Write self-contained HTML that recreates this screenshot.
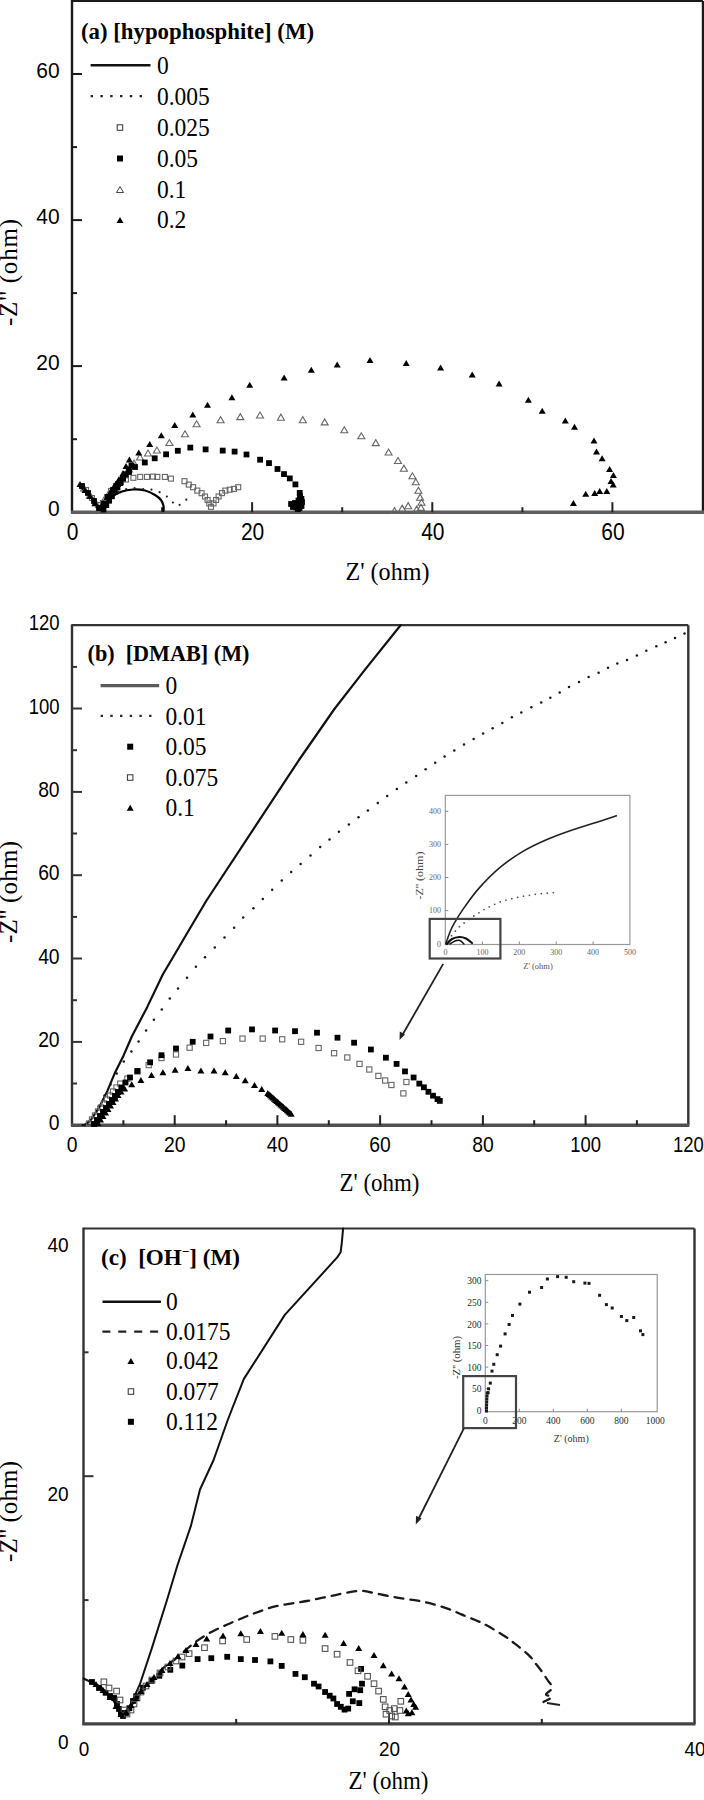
<!DOCTYPE html><html><head><meta charset="utf-8"><style>html,body{margin:0;padding:0;background:#fff;}svg{display:block}</style></head><body>
<svg width="704" height="1800" viewBox="0 0 704 1800">
<rect width="704" height="1800" fill="#fff"/>
<line x1="72" y1="1" x2="703" y2="1" stroke="#1a1a1a" stroke-width="2.2" />
<line x1="703" y1="1" x2="703" y2="512.2" stroke="#1a1a1a" stroke-width="2.4" />
<line x1="72" y1="0" x2="72" y2="513.2" stroke="#1a1a1a" stroke-width="2.4" />
<line x1="71" y1="512.2" x2="704" y2="512.2" stroke="#5e5e5e" stroke-width="3.6" />
<line x1="162.1" y1="512.2" x2="162.1" y2="507.2" stroke="#222" stroke-width="2" />
<line x1="252.1" y1="512.2" x2="252.1" y2="502.2" stroke="#222" stroke-width="2" />
<line x1="342.2" y1="512.2" x2="342.2" y2="507.2" stroke="#222" stroke-width="2" />
<line x1="432.3" y1="512.2" x2="432.3" y2="502.2" stroke="#222" stroke-width="2" />
<line x1="522.4" y1="512.2" x2="522.4" y2="507.2" stroke="#222" stroke-width="2" />
<line x1="612.4" y1="512.2" x2="612.4" y2="502.2" stroke="#222" stroke-width="2" />
<line x1="72" y1="439.2" x2="77" y2="439.2" stroke="#1a1a1a" stroke-width="2" />
<line x1="72" y1="366.1" x2="82" y2="366.1" stroke="#1a1a1a" stroke-width="2" />
<line x1="72" y1="293.1" x2="77" y2="293.1" stroke="#1a1a1a" stroke-width="2" />
<line x1="72" y1="220.1" x2="82" y2="220.1" stroke="#1a1a1a" stroke-width="2" />
<line x1="72" y1="147.1" x2="77" y2="147.1" stroke="#1a1a1a" stroke-width="2" />
<line x1="72" y1="74" x2="82" y2="74" stroke="#1a1a1a" stroke-width="2" />
<text transform="translate(72.5 540.2) scale(1.0 1.1)" font-family="&quot;Liberation Sans&quot;, sans-serif" font-size="21" text-anchor="middle" fill="#000">0</text>
<text transform="translate(252.6 540.2) scale(1.0 1.1)" font-family="&quot;Liberation Sans&quot;, sans-serif" font-size="21" text-anchor="middle" fill="#000">20</text>
<text transform="translate(432.8 540.2) scale(1.0 1.1)" font-family="&quot;Liberation Sans&quot;, sans-serif" font-size="21" text-anchor="middle" fill="#000">40</text>
<text transform="translate(612.9 540.2) scale(1.0 1.1)" font-family="&quot;Liberation Sans&quot;, sans-serif" font-size="21" text-anchor="middle" fill="#000">60</text>
<text transform="translate(59.6 515.7) scale(1.0 1.02)" font-family="&quot;Liberation Sans&quot;, sans-serif" font-size="21" text-anchor="end" fill="#000">0</text>
<text transform="translate(59.6 369.6) scale(1.0 1.02)" font-family="&quot;Liberation Sans&quot;, sans-serif" font-size="21" text-anchor="end" fill="#000">20</text>
<text transform="translate(59.6 223.6) scale(1.0 1.02)" font-family="&quot;Liberation Sans&quot;, sans-serif" font-size="21" text-anchor="end" fill="#000">40</text>
<text transform="translate(59.6 77.5) scale(1.0 1.02)" font-family="&quot;Liberation Sans&quot;, sans-serif" font-size="21" text-anchor="end" fill="#000">60</text>
<text x="387.5" y="580" font-family="&quot;Liberation Serif&quot;, serif" font-size="24.5" text-anchor="middle" font-weight="normal" textLength="84" lengthAdjust="spacingAndGlyphs">Z' (ohm)</text>
<text x="17" y="272.5" font-family="&quot;Liberation Serif&quot;, serif" font-size="25" text-anchor="middle" font-weight="normal" textLength="107" lengthAdjust="spacing" transform="rotate(-90 17 272.5)">-Z'' (ohm)</text>
<text x="81" y="39" font-family="&quot;Liberation Serif&quot;, serif" font-size="22.5" text-anchor="start" font-weight="bold" textLength="233" lengthAdjust="spacingAndGlyphs">(a) [hypophosphite] (M)</text>
<line x1="90.6" y1="65.2" x2="150.5" y2="65.2" stroke="#111" stroke-width="2.4" />
<line x1="90.6" y1="96.1" x2="142.5" y2="96.1" stroke="#222" stroke-width="2.4" stroke-dasharray="2.4 7.4"/>
<rect x="117.2" y="124.8" width="5.5" height="5.5" fill="none" stroke="#333" stroke-width="1"/>
<rect x="117" y="155.5" width="6" height="6" fill="#000"/>
<path d="M116.5 192.5L123.5 192.5L120 186.5Z" fill="none" stroke="#444" stroke-width="1"/>
<path d="M116.5 223L123.5 223L120 217Z" fill="#000"/>
<text transform="translate(157 73.8) scale(1 1.08)" font-family="&quot;Liberation Serif&quot;, serif" font-size="23.5" text-anchor="start" font-weight="normal" >0</text>
<text transform="translate(157 104.9) scale(1 1.08)" font-family="&quot;Liberation Serif&quot;, serif" font-size="23.5" text-anchor="start" font-weight="normal" >0.005</text>
<text transform="translate(157 135.8) scale(1 1.08)" font-family="&quot;Liberation Serif&quot;, serif" font-size="23.5" text-anchor="start" font-weight="normal" >0.025</text>
<text transform="translate(157 166.8) scale(1 1.08)" font-family="&quot;Liberation Serif&quot;, serif" font-size="23.5" text-anchor="start" font-weight="normal" >0.05</text>
<text transform="translate(157 197.8) scale(1 1.08)" font-family="&quot;Liberation Serif&quot;, serif" font-size="23.5" text-anchor="start" font-weight="normal" >0.1</text>
<text transform="translate(157 228.3) scale(1 1.08)" font-family="&quot;Liberation Serif&quot;, serif" font-size="23.5" text-anchor="start" font-weight="normal" >0.2</text>
<path d="M80 486C81.7 487.7 86.8 492.3 90 496C93.2 499.7 97.5 506 99 508" fill="none" stroke="#000" stroke-width="3" stroke-linejoin="round" stroke-linecap="round" />
<path d="M104 508C105.3 506.2 109 499.8 112 497C115 494.2 118.5 492.8 122 491.5C125.5 490.2 129.2 489.7 133 489.5C136.8 489.3 141.3 489.6 145 490.5C148.7 491.4 152.3 493.4 155 495C157.7 496.6 159.6 498.2 161 500C162.4 501.8 163.1 504.2 163.5 506C163.9 507.8 163.5 510.2 163.5 511" fill="none" stroke="#000" stroke-width="2.2" stroke-linejoin="round" stroke-linecap="round" />
<circle cx="99" cy="508" r="1.1" fill="#222"/>
<circle cx="104.7" cy="501.7" r="1.1" fill="#222"/>
<circle cx="110.6" cy="495.7" r="1.1" fill="#222"/>
<circle cx="118.2" cy="491.9" r="1.1" fill="#222"/>
<circle cx="126.2" cy="489.2" r="1.1" fill="#222"/>
<circle cx="134.6" cy="488.2" r="1.1" fill="#222"/>
<circle cx="143.1" cy="489" r="1.1" fill="#222"/>
<circle cx="151.5" cy="489.7" r="1.1" fill="#222"/>
<circle cx="159.6" cy="492.2" r="1.1" fill="#222"/>
<circle cx="166.9" cy="496.5" r="1.1" fill="#222"/>
<circle cx="172.9" cy="502.5" r="1.1" fill="#222"/>
<circle cx="179.6" cy="504.8" r="1.1" fill="#222"/>
<circle cx="186.3" cy="499.7" r="1.1" fill="#222"/>
<rect x="83.5" y="487.5" width="5" height="5" fill="none" stroke="#666" stroke-width="1.1"/>
<rect x="89.5" y="495.5" width="5" height="5" fill="none" stroke="#666" stroke-width="1.1"/>
<rect x="95.5" y="502.5" width="5" height="5" fill="none" stroke="#666" stroke-width="1.1"/>
<rect x="100.5" y="500.5" width="5" height="5" fill="none" stroke="#666" stroke-width="1.1"/>
<rect x="104.5" y="494.5" width="5" height="5" fill="none" stroke="#666" stroke-width="1.1"/>
<rect x="108.5" y="488.5" width="5" height="5" fill="none" stroke="#666" stroke-width="1.1"/>
<rect x="113.5" y="483.5" width="5" height="5" fill="none" stroke="#666" stroke-width="1.1"/>
<rect x="118.5" y="479.5" width="5" height="5" fill="none" stroke="#666" stroke-width="1.1"/>
<rect x="123.5" y="477" width="5" height="5" fill="none" stroke="#666" stroke-width="1.1"/>
<rect x="130.9" y="475.3" width="5" height="5" fill="none" stroke="#666" stroke-width="1.1"/>
<rect x="137.7" y="474.4" width="5" height="5" fill="none" stroke="#666" stroke-width="1.1"/>
<rect x="144.5" y="474.4" width="5" height="5" fill="none" stroke="#666" stroke-width="1.1"/>
<rect x="150.5" y="474.1" width="5" height="5" fill="none" stroke="#666" stroke-width="1.1"/>
<rect x="154.8" y="474.4" width="5" height="5" fill="none" stroke="#666" stroke-width="1.1"/>
<rect x="162.4" y="474.4" width="5" height="5" fill="none" stroke="#666" stroke-width="1.1"/>
<rect x="168.4" y="476.1" width="5" height="5" fill="none" stroke="#666" stroke-width="1.1"/>
<rect x="182" y="478.7" width="5" height="5" fill="none" stroke="#666" stroke-width="1.1"/>
<rect x="186.3" y="482.1" width="5" height="5" fill="none" stroke="#666" stroke-width="1.1"/>
<rect x="190.6" y="484.7" width="5" height="5" fill="none" stroke="#666" stroke-width="1.1"/>
<rect x="194.8" y="488.1" width="5" height="5" fill="none" stroke="#666" stroke-width="1.1"/>
<rect x="199.1" y="490.7" width="5" height="5" fill="none" stroke="#666" stroke-width="1.1"/>
<rect x="202.5" y="494" width="5" height="5" fill="none" stroke="#666" stroke-width="1.1"/>
<rect x="205.1" y="497.5" width="5" height="5" fill="none" stroke="#666" stroke-width="1.1"/>
<rect x="206.8" y="500.9" width="5" height="5" fill="none" stroke="#666" stroke-width="1.1"/>
<rect x="208.5" y="504.3" width="5" height="5" fill="none" stroke="#666" stroke-width="1.1"/>
<rect x="211" y="500.9" width="5" height="5" fill="none" stroke="#666" stroke-width="1.1"/>
<rect x="213.6" y="497.5" width="5" height="5" fill="none" stroke="#666" stroke-width="1.1"/>
<rect x="216.1" y="494" width="5" height="5" fill="none" stroke="#666" stroke-width="1.1"/>
<rect x="219.5" y="490.6" width="5" height="5" fill="none" stroke="#666" stroke-width="1.1"/>
<rect x="222.9" y="488.1" width="5" height="5" fill="none" stroke="#666" stroke-width="1.1"/>
<rect x="227.2" y="487.2" width="5" height="5" fill="none" stroke="#666" stroke-width="1.1"/>
<rect x="231.5" y="486.4" width="5" height="5" fill="none" stroke="#666" stroke-width="1.1"/>
<rect x="235.7" y="484.7" width="5" height="5" fill="none" stroke="#666" stroke-width="1.1"/>
<path d="M80.5 491L87.5 491L84 485Z" fill="none" stroke="#666" stroke-width="1.1"/>
<path d="M86.5 498L93.5 498L90 492Z" fill="none" stroke="#666" stroke-width="1.1"/>
<path d="M92.5 506L99.5 506L96 500Z" fill="none" stroke="#666" stroke-width="1.1"/>
<path d="M100.5 503L107.5 503L104 497Z" fill="none" stroke="#666" stroke-width="1.1"/>
<path d="M105.5 496L112.5 496L109 490Z" fill="none" stroke="#666" stroke-width="1.1"/>
<path d="M110.5 490L117.5 490L114 484Z" fill="none" stroke="#666" stroke-width="1.1"/>
<path d="M115.5 484L122.5 484L119 478Z" fill="none" stroke="#666" stroke-width="1.1"/>
<path d="M120.5 478L127.5 478L124 472Z" fill="none" stroke="#666" stroke-width="1.1"/>
<path d="M125.5 472L132.5 472L129 466Z" fill="none" stroke="#666" stroke-width="1.1"/>
<path d="M130.5 466L137.5 466L134 460Z" fill="none" stroke="#666" stroke-width="1.1"/>
<path d="M136.5 460L143.5 460L140 454Z" fill="none" stroke="#666" stroke-width="1.1"/>
<path d="M144.5 456L151.5 456L148 450Z" fill="none" stroke="#666" stroke-width="1.1"/>
<path d="M153.4 453L160.4 453L156.9 447Z" fill="none" stroke="#666" stroke-width="1.1"/>
<path d="M165.9 445.5L172.9 445.5L169.4 439.5Z" fill="none" stroke="#666" stroke-width="1.1"/>
<path d="M181.5 436.8L188.5 436.8L185 430.8Z" fill="none" stroke="#666" stroke-width="1.1"/>
<path d="M193.1 426.8L200.1 426.8L196.6 420.8Z" fill="none" stroke="#666" stroke-width="1.1"/>
<path d="M217.1 422.7L224.1 422.7L220.6 416.7Z" fill="none" stroke="#666" stroke-width="1.1"/>
<path d="M236.8 419.6L243.8 419.6L240.3 413.6Z" fill="none" stroke="#666" stroke-width="1.1"/>
<path d="M256.5 418L263.5 418L260 412Z" fill="none" stroke="#666" stroke-width="1.1"/>
<path d="M277.4 420.2L284.4 420.2L280.9 414.2Z" fill="none" stroke="#666" stroke-width="1.1"/>
<path d="M299.3 422.7L306.3 422.7L302.8 416.7Z" fill="none" stroke="#666" stroke-width="1.1"/>
<path d="M321.2 424.9L328.2 424.9L324.7 418.9Z" fill="none" stroke="#666" stroke-width="1.1"/>
<path d="M340.8 432.8L347.8 432.8L344.3 426.8Z" fill="none" stroke="#666" stroke-width="1.1"/>
<path d="M357.8 438.8L364.8 438.8L361.3 432.8Z" fill="none" stroke="#666" stroke-width="1.1"/>
<path d="M372.3 445.6L379.3 445.6L375.8 439.6Z" fill="none" stroke="#666" stroke-width="1.1"/>
<path d="M385.1 455L392.1 455L388.6 449Z" fill="none" stroke="#666" stroke-width="1.1"/>
<path d="M394.5 463.5L401.5 463.5L398 457.5Z" fill="none" stroke="#666" stroke-width="1.1"/>
<path d="M400.4 471.2L407.4 471.2L403.9 465.2Z" fill="none" stroke="#666" stroke-width="1.1"/>
<path d="M408.9 478.8L415.9 478.8L412.4 472.8Z" fill="none" stroke="#666" stroke-width="1.1"/>
<path d="M412.3 484.8L419.3 484.8L415.8 478.8Z" fill="none" stroke="#666" stroke-width="1.1"/>
<path d="M414.9 493.3L421.9 493.3L418.4 487.3Z" fill="none" stroke="#666" stroke-width="1.1"/>
<path d="M416.6 500.2L423.6 500.2L420.1 494.2Z" fill="none" stroke="#666" stroke-width="1.1"/>
<path d="M418 505.3L425 505.3L421.5 499.3Z" fill="none" stroke="#666" stroke-width="1.1"/>
<path d="M417.5 510.4L424.5 510.4L421 504.4Z" fill="none" stroke="#666" stroke-width="1.1"/>
<path d="M413.2 512.1L420.2 512.1L416.7 506.1Z" fill="none" stroke="#666" stroke-width="1.1"/>
<path d="M404.7 508.7L411.7 508.7L408.2 502.7Z" fill="none" stroke="#666" stroke-width="1.1"/>
<path d="M398.7 511.2L405.7 511.2L402.2 505.2Z" fill="none" stroke="#666" stroke-width="1.1"/>
<path d="M391 513.5L398 513.5L394.5 507.5Z" fill="none" stroke="#666" stroke-width="1.1"/>
<rect x="79.1" y="483.1" width="5.8" height="5.8" fill="#000"/>
<rect x="85.1" y="490.1" width="5.8" height="5.8" fill="#000"/>
<rect x="91.1" y="498.1" width="5.8" height="5.8" fill="#000"/>
<rect x="96.1" y="505.1" width="5.8" height="5.8" fill="#000"/>
<rect x="101.1" y="501.1" width="5.8" height="5.8" fill="#000"/>
<rect x="105.1" y="494.1" width="5.8" height="5.8" fill="#000"/>
<rect x="110.1" y="487.1" width="5.8" height="5.8" fill="#000"/>
<rect x="115.1" y="481.1" width="5.8" height="5.8" fill="#000"/>
<rect x="120.1" y="475.1" width="5.8" height="5.8" fill="#000"/>
<rect x="126.1" y="469.1" width="5.8" height="5.8" fill="#000"/>
<rect x="132.1" y="464.1" width="5.8" height="5.8" fill="#000"/>
<rect x="141.9" y="459.6" width="5.8" height="5.8" fill="#000"/>
<rect x="151.8" y="455.4" width="5.8" height="5.8" fill="#000"/>
<rect x="163.2" y="451.4" width="5.8" height="5.8" fill="#000"/>
<rect x="174.9" y="447.9" width="5.8" height="5.8" fill="#000"/>
<rect x="187.4" y="444.7" width="5.8" height="5.8" fill="#000"/>
<rect x="202.7" y="446.5" width="5.8" height="5.8" fill="#000"/>
<rect x="219.8" y="447.7" width="5.8" height="5.8" fill="#000"/>
<rect x="231.7" y="448.7" width="5.8" height="5.8" fill="#000"/>
<rect x="243.6" y="451.6" width="5.8" height="5.8" fill="#000"/>
<rect x="257.2" y="456.8" width="5.8" height="5.8" fill="#000"/>
<rect x="266.1" y="460.2" width="5.8" height="5.8" fill="#000"/>
<rect x="274.6" y="466.1" width="5.8" height="5.8" fill="#000"/>
<rect x="281.1" y="471.2" width="5.8" height="5.8" fill="#000"/>
<rect x="286.9" y="475.5" width="5.8" height="5.8" fill="#000"/>
<rect x="292.5" y="481.5" width="5.8" height="5.8" fill="#000"/>
<rect x="296.8" y="490" width="5.8" height="5.8" fill="#000"/>
<rect x="298.5" y="496" width="5.8" height="5.8" fill="#000"/>
<rect x="297.6" y="501.1" width="5.8" height="5.8" fill="#000"/>
<rect x="293.3" y="504.5" width="5.8" height="5.8" fill="#000"/>
<rect x="288.2" y="501.1" width="5.8" height="5.8" fill="#000"/>
<rect x="295.1" y="506.2" width="5.8" height="5.8" fill="#000"/>
<rect x="297.1" y="493.1" width="5.8" height="5.8" fill="#000"/>
<rect x="299.1" y="499.1" width="5.8" height="5.8" fill="#000"/>
<rect x="295.6" y="497.6" width="5.8" height="5.8" fill="#000"/>
<rect x="292.1" y="500.1" width="5.8" height="5.8" fill="#000"/>
<rect x="290.1" y="504.1" width="5.8" height="5.8" fill="#000"/>
<rect x="296.6" y="505.1" width="5.8" height="5.8" fill="#000"/>
<rect x="298.6" y="503.1" width="5.8" height="5.8" fill="#000"/>
<rect x="100.6" y="506.6" width="5.8" height="5.8" fill="#000"/>
<rect x="103.4" y="502.2" width="5.8" height="5.8" fill="#000"/>
<rect x="106.2" y="497.8" width="5.8" height="5.8" fill="#000"/>
<rect x="109" y="493.4" width="5.8" height="5.8" fill="#000"/>
<rect x="111.8" y="489" width="5.8" height="5.8" fill="#000"/>
<rect x="114.6" y="484.6" width="5.8" height="5.8" fill="#000"/>
<rect x="117.4" y="480.2" width="5.8" height="5.8" fill="#000"/>
<rect x="120.2" y="475.8" width="5.8" height="5.8" fill="#000"/>
<rect x="123" y="471.4" width="5.8" height="5.8" fill="#000"/>
<rect x="125.8" y="467" width="5.8" height="5.8" fill="#000"/>
<rect x="128.6" y="462.6" width="5.8" height="5.8" fill="#000"/>
<path d="M76.5 487L83.5 487L80 481Z" fill="#000"/>
<path d="M81.5 493L88.5 493L85 487Z" fill="#000"/>
<path d="M86.5 499L93.5 499L90 493Z" fill="#000"/>
<path d="M91.5 506L98.5 506L95 500Z" fill="#000"/>
<path d="M96.5 511L103.5 511L100 505Z" fill="#000"/>
<path d="M99.5 506L106.5 506L103 500Z" fill="#000"/>
<path d="M103.5 500L110.5 500L107 494Z" fill="#000"/>
<path d="M107.5 494L114.5 494L111 488Z" fill="#000"/>
<path d="M111.5 488L118.5 488L115 482Z" fill="#000"/>
<path d="M115.5 482L122.5 482L119 476Z" fill="#000"/>
<path d="M119.5 476L126.5 476L123 470Z" fill="#000"/>
<path d="M122.5 469L129.5 469L126 463Z" fill="#000"/>
<path d="M125.9 462.4L132.9 462.4L129.4 456.4Z" fill="#000"/>
<path d="M135.3 455.5L142.3 455.5L138.8 449.5Z" fill="#000"/>
<path d="M146.2 447.1L153.2 447.1L149.7 441.1Z" fill="#000"/>
<path d="M157.8 438.3L164.8 438.3L161.3 432.3Z" fill="#000"/>
<path d="M171.2 428L178.2 428L174.7 422Z" fill="#000"/>
<path d="M189.3 417.4L196.3 417.4L192.8 411.4Z" fill="#000"/>
<path d="M204 407.7L211 407.7L207.5 401.7Z" fill="#000"/>
<path d="M228.4 400.2L235.4 400.2L231.9 394.2Z" fill="#000"/>
<path d="M246.2 387.7L253.2 387.7L249.7 381.7Z" fill="#000"/>
<path d="M280.6 380.5L287.6 380.5L284.1 374.5Z" fill="#000"/>
<path d="M307.8 372.7L314.8 372.7L311.3 366.7Z" fill="#000"/>
<path d="M333.7 367.4L340.7 367.4L337.2 361.4Z" fill="#000"/>
<path d="M366.5 363.1L373.5 363.1L370 357.1Z" fill="#000"/>
<path d="M402.7 366L409.7 366L406.2 360Z" fill="#000"/>
<path d="M437.1 370.5L444.1 370.5L440.6 364.5Z" fill="#000"/>
<path d="M468.7 377.4L475.7 377.4L472.2 371.4Z" fill="#000"/>
<path d="M495.6 386.6L502.6 386.6L499.1 380.6Z" fill="#000"/>
<path d="M524.9 402.7L531.9 402.7L528.4 396.7Z" fill="#000"/>
<path d="M538.7 413.7L545.7 413.7L542.2 407.7Z" fill="#000"/>
<path d="M561.8 423.6L568.8 423.6L565.3 417.6Z" fill="#000"/>
<path d="M571 429.7L578 429.7L574.5 423.7Z" fill="#000"/>
<path d="M590.5 443.5L597.5 443.5L594 437.5Z" fill="#000"/>
<path d="M593 454.4L600 454.4L596.5 448.4Z" fill="#000"/>
<path d="M598.6 461.2L605.6 461.2L602.1 455.2Z" fill="#000"/>
<path d="M606.1 471.9L613.1 471.9L609.6 465.9Z" fill="#000"/>
<path d="M609.9 478L616.9 478L613.4 472Z" fill="#000"/>
<path d="M607.5 484L614.5 484L611 478Z" fill="#000"/>
<path d="M609.7 487.5L616.7 487.5L613.2 481.5Z" fill="#000"/>
<path d="M603.3 493.9L610.3 493.9L606.8 487.9Z" fill="#000"/>
<path d="M596.2 493.9L603.2 493.9L599.7 487.9Z" fill="#000"/>
<path d="M591.2 496L598.2 496L594.7 490Z" fill="#000"/>
<path d="M582.2 496.8L589.2 496.8L585.7 490.8Z" fill="#000"/>
<path d="M569.9 506L576.9 506L573.4 500Z" fill="#000"/>
<line x1="72" y1="625.2" x2="688.3" y2="625.2" stroke="#333" stroke-width="2.2" />
<line x1="688.3" y1="625.2" x2="688.3" y2="1125.2" stroke="#333" stroke-width="2.4" />
<line x1="72" y1="624.2" x2="72" y2="1126.2" stroke="#333" stroke-width="2.4" />
<line x1="71" y1="1125.2" x2="689.3" y2="1125.2" stroke="#505050" stroke-width="3.6" />
<line x1="123.4" y1="1125.2" x2="123.4" y2="1120.2" stroke="#222" stroke-width="2" />
<line x1="174.7" y1="1125.2" x2="174.7" y2="1115.2" stroke="#222" stroke-width="2" />
<line x1="226.1" y1="1125.2" x2="226.1" y2="1120.2" stroke="#222" stroke-width="2" />
<line x1="277.4" y1="1125.2" x2="277.4" y2="1115.2" stroke="#222" stroke-width="2" />
<line x1="328.8" y1="1125.2" x2="328.8" y2="1120.2" stroke="#222" stroke-width="2" />
<line x1="380.1" y1="1125.2" x2="380.1" y2="1115.2" stroke="#222" stroke-width="2" />
<line x1="431.5" y1="1125.2" x2="431.5" y2="1120.2" stroke="#222" stroke-width="2" />
<line x1="482.9" y1="1125.2" x2="482.9" y2="1115.2" stroke="#222" stroke-width="2" />
<line x1="534.2" y1="1125.2" x2="534.2" y2="1120.2" stroke="#222" stroke-width="2" />
<line x1="585.6" y1="1125.2" x2="585.6" y2="1115.2" stroke="#222" stroke-width="2" />
<line x1="636.9" y1="1125.2" x2="636.9" y2="1120.2" stroke="#222" stroke-width="2" />
<line x1="72" y1="1083.5" x2="77" y2="1083.5" stroke="#333" stroke-width="2" />
<line x1="72" y1="1041.9" x2="82" y2="1041.9" stroke="#333" stroke-width="2" />
<line x1="72" y1="1000.2" x2="77" y2="1000.2" stroke="#333" stroke-width="2" />
<line x1="72" y1="958.5" x2="82" y2="958.5" stroke="#333" stroke-width="2" />
<line x1="72" y1="916.9" x2="77" y2="916.9" stroke="#333" stroke-width="2" />
<line x1="72" y1="875.2" x2="82" y2="875.2" stroke="#333" stroke-width="2" />
<line x1="72" y1="833.5" x2="77" y2="833.5" stroke="#333" stroke-width="2" />
<line x1="72" y1="791.9" x2="82" y2="791.9" stroke="#333" stroke-width="2" />
<line x1="72" y1="750.2" x2="77" y2="750.2" stroke="#333" stroke-width="2" />
<line x1="72" y1="708.5" x2="82" y2="708.5" stroke="#333" stroke-width="2" />
<line x1="72" y1="666.9" x2="77" y2="666.9" stroke="#333" stroke-width="2" />
<text transform="translate(72 1152) scale(0.92 1.04)" font-family="&quot;Liberation Sans&quot;, sans-serif" font-size="21" text-anchor="middle" fill="#000">0</text>
<text transform="translate(174.7 1152) scale(0.92 1.04)" font-family="&quot;Liberation Sans&quot;, sans-serif" font-size="21" text-anchor="middle" fill="#000">20</text>
<text transform="translate(277.4 1152) scale(0.92 1.04)" font-family="&quot;Liberation Sans&quot;, sans-serif" font-size="21" text-anchor="middle" fill="#000">40</text>
<text transform="translate(380.1 1152) scale(0.92 1.04)" font-family="&quot;Liberation Sans&quot;, sans-serif" font-size="21" text-anchor="middle" fill="#000">60</text>
<text transform="translate(482.9 1152) scale(0.92 1.04)" font-family="&quot;Liberation Sans&quot;, sans-serif" font-size="21" text-anchor="middle" fill="#000">80</text>
<text transform="translate(585.6 1152) scale(0.88 1.04)" font-family="&quot;Liberation Sans&quot;, sans-serif" font-size="21" text-anchor="middle" fill="#000">100</text>
<text transform="translate(688.3 1152) scale(0.88 1.04)" font-family="&quot;Liberation Sans&quot;, sans-serif" font-size="21" text-anchor="middle" fill="#000">120</text>
<text transform="translate(59.6 1130.4) scale(0.92 1.02)" font-family="&quot;Liberation Sans&quot;, sans-serif" font-size="21" text-anchor="end" fill="#000">0</text>
<text transform="translate(59.6 1047) scale(0.92 1.02)" font-family="&quot;Liberation Sans&quot;, sans-serif" font-size="21" text-anchor="end" fill="#000">20</text>
<text transform="translate(59.6 963.7) scale(0.92 1.02)" font-family="&quot;Liberation Sans&quot;, sans-serif" font-size="21" text-anchor="end" fill="#000">40</text>
<text transform="translate(59.6 880.4) scale(0.92 1.02)" font-family="&quot;Liberation Sans&quot;, sans-serif" font-size="21" text-anchor="end" fill="#000">60</text>
<text transform="translate(59.6 797) scale(0.92 1.02)" font-family="&quot;Liberation Sans&quot;, sans-serif" font-size="21" text-anchor="end" fill="#000">80</text>
<text transform="translate(59.6 713.7) scale(0.88 1.02)" font-family="&quot;Liberation Sans&quot;, sans-serif" font-size="21" text-anchor="end" fill="#000">100</text>
<text transform="translate(59.6 630.4) scale(0.88 1.02)" font-family="&quot;Liberation Sans&quot;, sans-serif" font-size="21" text-anchor="end" fill="#000">120</text>
<text x="379.5" y="1191" font-family="&quot;Liberation Serif&quot;, serif" font-size="24.5" text-anchor="middle" font-weight="normal" textLength="80" lengthAdjust="spacingAndGlyphs">Z' (ohm)</text>
<text x="17" y="892" font-family="&quot;Liberation Serif&quot;, serif" font-size="25" text-anchor="middle" font-weight="normal" textLength="102" lengthAdjust="spacing" transform="rotate(-90 17 892)">-Z'' (ohm)</text>
<text x="87.5" y="661" font-family="&quot;Liberation Serif&quot;, serif" font-size="22.5" text-anchor="start" font-weight="bold" textLength="162" lengthAdjust="spacingAndGlyphs">(b)&#160;&#160;[DMAB] (M)</text>
<line x1="100.6" y1="685.7" x2="159.2" y2="685.7" stroke="#5a5a5a" stroke-width="3.3" />
<line x1="100.6" y1="715.9" x2="153" y2="715.9" stroke="#2a2a2a" stroke-width="2.4" stroke-dasharray="2.4 7.3"/>
<rect x="127.2" y="743.7" width="6" height="6" fill="#000"/>
<rect x="127.4" y="774.8" width="5.5" height="5.5" fill="none" stroke="#333" stroke-width="1"/>
<path d="M126.7 810.8L133.7 810.8L130.2 804.8Z" fill="#000"/>
<text transform="translate(165.5 693.7) scale(1 1.08)" font-family="&quot;Liberation Serif&quot;, serif" font-size="23.5" text-anchor="start" font-weight="normal" >0</text>
<text transform="translate(165.5 724.6) scale(1 1.08)" font-family="&quot;Liberation Serif&quot;, serif" font-size="23.5" text-anchor="start" font-weight="normal" >0.01</text>
<text transform="translate(165.5 755) scale(1 1.08)" font-family="&quot;Liberation Serif&quot;, serif" font-size="23.5" text-anchor="start" font-weight="normal" >0.05</text>
<text transform="translate(165.5 785.8) scale(1 1.08)" font-family="&quot;Liberation Serif&quot;, serif" font-size="23.5" text-anchor="start" font-weight="normal" >0.075</text>
<text transform="translate(165.5 816.1) scale(1 1.08)" font-family="&quot;Liberation Serif&quot;, serif" font-size="23.5" text-anchor="start" font-weight="normal" >0.1</text>
<path d="M82.5 1125L84.8 1124.8L90.5 1120.5L99 1107.7L107.5 1090.7L114.6 1073.6L123.1 1056.6L131.7 1036.7L147.3 1006.9L162.9 974.2L171.4 960L189 930L206.5 900.5L299 760L334.4 709L365.6 668.8L400.6 625.2" fill="none" stroke="#111" stroke-width="2.2" stroke-linejoin="round" stroke-linecap="round" />
<circle cx="92.5" cy="1117" r="1.25" fill="#1a1a1a"/>
<circle cx="98.5" cy="1106.5" r="1.25" fill="#1a1a1a"/>
<circle cx="104.5" cy="1095.5" r="1.25" fill="#1a1a1a"/>
<circle cx="110.5" cy="1084.5" r="1.25" fill="#1a1a1a"/>
<circle cx="116.7" cy="1073.6" r="1.25" fill="#1a1a1a"/>
<circle cx="123.8" cy="1061.6" r="1.25" fill="#1a1a1a"/>
<circle cx="131.4" cy="1051.6" r="1.25" fill="#1a1a1a"/>
<circle cx="138.6" cy="1041.4" r="1.25" fill="#1a1a1a"/>
<circle cx="146.1" cy="1030.5" r="1.25" fill="#1a1a1a"/>
<circle cx="153.9" cy="1019.8" r="1.25" fill="#1a1a1a"/>
<circle cx="161.8" cy="1009.5" r="1.25" fill="#1a1a1a"/>
<circle cx="169.8" cy="998.6" r="1.25" fill="#1a1a1a"/>
<circle cx="178" cy="988.6" r="1.25" fill="#1a1a1a"/>
<circle cx="187" cy="977.7" r="1.25" fill="#1a1a1a"/>
<circle cx="195.9" cy="966.8" r="1.25" fill="#1a1a1a"/>
<circle cx="205" cy="957.3" r="1.25" fill="#1a1a1a"/>
<circle cx="214.8" cy="947.5" r="1.25" fill="#1a1a1a"/>
<circle cx="224.5" cy="937.5" r="1.25" fill="#1a1a1a"/>
<circle cx="234.1" cy="927.7" r="1.25" fill="#1a1a1a"/>
<circle cx="243.2" cy="917.5" r="1.25" fill="#1a1a1a"/>
<circle cx="253.4" cy="908.3" r="1.25" fill="#1a1a1a"/>
<circle cx="262.8" cy="899.1" r="1.25" fill="#1a1a1a"/>
<circle cx="272.2" cy="889.7" r="1.25" fill="#1a1a1a"/>
<circle cx="281.8" cy="880.6" r="1.25" fill="#1a1a1a"/>
<circle cx="291.2" cy="872.1" r="1.25" fill="#1a1a1a"/>
<circle cx="300.6" cy="864.1" r="1.25" fill="#1a1a1a"/>
<circle cx="310.5" cy="855.6" r="1.25" fill="#1a1a1a"/>
<circle cx="320.2" cy="847.1" r="1.25" fill="#1a1a1a"/>
<circle cx="329.5" cy="839.4" r="1.25" fill="#1a1a1a"/>
<circle cx="338.9" cy="831.8" r="1.25" fill="#1a1a1a"/>
<circle cx="348.9" cy="824.4" r="1.25" fill="#1a1a1a"/>
<circle cx="358.5" cy="817.3" r="1.25" fill="#1a1a1a"/>
<circle cx="367.9" cy="810.5" r="1.25" fill="#1a1a1a"/>
<circle cx="377.8" cy="803.1" r="1.25" fill="#1a1a1a"/>
<circle cx="387.2" cy="796" r="1.25" fill="#1a1a1a"/>
<circle cx="396.9" cy="788.9" r="1.25" fill="#1a1a1a"/>
<circle cx="406.3" cy="782.6" r="1.25" fill="#1a1a1a"/>
<circle cx="416.2" cy="776.1" r="1.25" fill="#1a1a1a"/>
<circle cx="425.6" cy="769.3" r="1.25" fill="#1a1a1a"/>
<circle cx="435.2" cy="762.7" r="1.25" fill="#1a1a1a"/>
<circle cx="444.6" cy="756.5" r="1.25" fill="#1a1a1a"/>
<circle cx="454.3" cy="750.4" r="1.25" fill="#1a1a1a"/>
<circle cx="464" cy="744.5" r="1.25" fill="#1a1a1a"/>
<circle cx="473.6" cy="739" r="1.25" fill="#1a1a1a"/>
<circle cx="483.1" cy="733.5" r="1.25" fill="#1a1a1a"/>
<circle cx="492.7" cy="728.2" r="1.25" fill="#1a1a1a"/>
<circle cx="502.3" cy="723" r="1.25" fill="#1a1a1a"/>
<circle cx="511.9" cy="717.3" r="1.25" fill="#1a1a1a"/>
<circle cx="521.3" cy="712.4" r="1.25" fill="#1a1a1a"/>
<circle cx="531.3" cy="707.3" r="1.25" fill="#1a1a1a"/>
<circle cx="541.2" cy="702.5" r="1.25" fill="#1a1a1a"/>
<circle cx="550.3" cy="697.7" r="1.25" fill="#1a1a1a"/>
<circle cx="559.7" cy="692.6" r="1.25" fill="#1a1a1a"/>
<circle cx="569" cy="686.9" r="1.25" fill="#1a1a1a"/>
<circle cx="579" cy="682" r="1.25" fill="#1a1a1a"/>
<circle cx="588.6" cy="676.9" r="1.25" fill="#1a1a1a"/>
<circle cx="598.6" cy="672.7" r="1.25" fill="#1a1a1a"/>
<circle cx="608" cy="667.8" r="1.25" fill="#1a1a1a"/>
<circle cx="617.3" cy="663.6" r="1.25" fill="#1a1a1a"/>
<circle cx="627" cy="659.9" r="1.25" fill="#1a1a1a"/>
<circle cx="636.9" cy="655.6" r="1.25" fill="#1a1a1a"/>
<circle cx="646.3" cy="650.8" r="1.25" fill="#1a1a1a"/>
<circle cx="656.3" cy="646.3" r="1.25" fill="#1a1a1a"/>
<circle cx="665.6" cy="642.3" r="1.25" fill="#1a1a1a"/>
<circle cx="675" cy="638" r="1.25" fill="#1a1a1a"/>
<circle cx="684.5" cy="633.6" r="1.25" fill="#1a1a1a"/>
<rect x="86.4" y="1120.9" width="5.2" height="5.2" fill="none" stroke="#666" stroke-width="1.1"/>
<rect x="89.4" y="1116.9" width="5.2" height="5.2" fill="none" stroke="#666" stroke-width="1.1"/>
<rect x="92.4" y="1112.9" width="5.2" height="5.2" fill="none" stroke="#666" stroke-width="1.1"/>
<rect x="95.4" y="1108.9" width="5.2" height="5.2" fill="none" stroke="#666" stroke-width="1.1"/>
<rect x="98.4" y="1104.9" width="5.2" height="5.2" fill="none" stroke="#666" stroke-width="1.1"/>
<rect x="101.4" y="1100.9" width="5.2" height="5.2" fill="none" stroke="#666" stroke-width="1.1"/>
<rect x="104.4" y="1096.9" width="5.2" height="5.2" fill="none" stroke="#666" stroke-width="1.1"/>
<rect x="107.4" y="1092.9" width="5.2" height="5.2" fill="none" stroke="#666" stroke-width="1.1"/>
<rect x="110.4" y="1088.9" width="5.2" height="5.2" fill="none" stroke="#666" stroke-width="1.1"/>
<rect x="113.9" y="1084.9" width="5.2" height="5.2" fill="none" stroke="#666" stroke-width="1.1"/>
<rect x="117.7" y="1081" width="5.2" height="5.2" fill="none" stroke="#666" stroke-width="1.1"/>
<rect x="124.8" y="1076" width="5.2" height="5.2" fill="none" stroke="#666" stroke-width="1.1"/>
<rect x="134.7" y="1068.9" width="5.2" height="5.2" fill="none" stroke="#666" stroke-width="1.1"/>
<rect x="146.1" y="1062.5" width="5.2" height="5.2" fill="none" stroke="#666" stroke-width="1.1"/>
<rect x="158.9" y="1055.4" width="5.2" height="5.2" fill="none" stroke="#666" stroke-width="1.1"/>
<rect x="173.4" y="1051.9" width="5.2" height="5.2" fill="none" stroke="#666" stroke-width="1.1"/>
<rect x="187" y="1045.1" width="5.2" height="5.2" fill="none" stroke="#666" stroke-width="1.1"/>
<rect x="203.6" y="1040.3" width="5.2" height="5.2" fill="none" stroke="#666" stroke-width="1.1"/>
<rect x="220.3" y="1038.5" width="5.2" height="5.2" fill="none" stroke="#666" stroke-width="1.1"/>
<rect x="239.9" y="1036" width="5.2" height="5.2" fill="none" stroke="#666" stroke-width="1.1"/>
<rect x="260.1" y="1036" width="5.2" height="5.2" fill="none" stroke="#666" stroke-width="1.1"/>
<rect x="279.6" y="1036.7" width="5.2" height="5.2" fill="none" stroke="#666" stroke-width="1.1"/>
<rect x="298.5" y="1039.2" width="5.2" height="5.2" fill="none" stroke="#666" stroke-width="1.1"/>
<rect x="316" y="1045.4" width="5.2" height="5.2" fill="none" stroke="#666" stroke-width="1.1"/>
<rect x="331.5" y="1050.6" width="5.2" height="5.2" fill="none" stroke="#666" stroke-width="1.1"/>
<rect x="344.7" y="1054.9" width="5.2" height="5.2" fill="none" stroke="#666" stroke-width="1.1"/>
<rect x="356.9" y="1061.3" width="5.2" height="5.2" fill="none" stroke="#666" stroke-width="1.1"/>
<rect x="366.7" y="1066.9" width="5.2" height="5.2" fill="none" stroke="#666" stroke-width="1.1"/>
<rect x="375.8" y="1073.3" width="5.2" height="5.2" fill="none" stroke="#666" stroke-width="1.1"/>
<rect x="382.6" y="1077.9" width="5.2" height="5.2" fill="none" stroke="#666" stroke-width="1.1"/>
<rect x="388.8" y="1082.4" width="5.2" height="5.2" fill="none" stroke="#666" stroke-width="1.1"/>
<rect x="400.8" y="1090.8" width="5.2" height="5.2" fill="none" stroke="#666" stroke-width="1.1"/>
<rect x="403.8" y="1079.4" width="5.2" height="5.2" fill="none" stroke="#666" stroke-width="1.1"/>
<rect x="91.1" y="1121.1" width="5.8" height="5.8" fill="#000"/>
<rect x="94.1" y="1117.1" width="5.8" height="5.8" fill="#000"/>
<rect x="97.1" y="1113.1" width="5.8" height="5.8" fill="#000"/>
<rect x="100.1" y="1109.1" width="5.8" height="5.8" fill="#000"/>
<rect x="103.1" y="1105.1" width="5.8" height="5.8" fill="#000"/>
<rect x="106.1" y="1101.1" width="5.8" height="5.8" fill="#000"/>
<rect x="109.1" y="1097.1" width="5.8" height="5.8" fill="#000"/>
<rect x="112.1" y="1093.1" width="5.8" height="5.8" fill="#000"/>
<rect x="115.1" y="1089.1" width="5.8" height="5.8" fill="#000"/>
<rect x="118.6" y="1084.6" width="5.8" height="5.8" fill="#000"/>
<rect x="122.6" y="1079.6" width="5.8" height="5.8" fill="#000"/>
<rect x="127.1" y="1074.6" width="5.8" height="5.8" fill="#000"/>
<rect x="134.6" y="1068.1" width="5.8" height="5.8" fill="#000"/>
<rect x="147.2" y="1059.4" width="5.8" height="5.8" fill="#000"/>
<rect x="158.6" y="1052.3" width="5.8" height="5.8" fill="#000"/>
<rect x="173.1" y="1045.6" width="5.8" height="5.8" fill="#000"/>
<rect x="189.8" y="1038.9" width="5.8" height="5.8" fill="#000"/>
<rect x="207.6" y="1033.6" width="5.8" height="5.8" fill="#000"/>
<rect x="225.3" y="1027.6" width="5.8" height="5.8" fill="#000"/>
<rect x="249.1" y="1026.5" width="5.8" height="5.8" fill="#000"/>
<rect x="272.2" y="1027.6" width="5.8" height="5.8" fill="#000"/>
<rect x="292.1" y="1028.3" width="5.8" height="5.8" fill="#000"/>
<rect x="314.1" y="1029.8" width="5.8" height="5.8" fill="#000"/>
<rect x="334.6" y="1034.8" width="5.8" height="5.8" fill="#000"/>
<rect x="351.2" y="1039.8" width="5.8" height="5.8" fill="#000"/>
<rect x="368" y="1046.6" width="5.8" height="5.8" fill="#000"/>
<rect x="383" y="1054.8" width="5.8" height="5.8" fill="#000"/>
<rect x="393.7" y="1061" width="5.8" height="5.8" fill="#000"/>
<rect x="402.1" y="1068.5" width="5.8" height="5.8" fill="#000"/>
<rect x="410.7" y="1074.6" width="5.8" height="5.8" fill="#000"/>
<rect x="416.4" y="1080.7" width="5.8" height="5.8" fill="#000"/>
<rect x="421" y="1084.4" width="5.8" height="5.8" fill="#000"/>
<rect x="425.5" y="1088.9" width="5.8" height="5.8" fill="#000"/>
<rect x="430.1" y="1092.8" width="5.8" height="5.8" fill="#000"/>
<rect x="434.6" y="1096.2" width="5.8" height="5.8" fill="#000"/>
<rect x="436.9" y="1098" width="5.8" height="5.8" fill="#000"/>
<path d="M94.5 1126L101.5 1126L98 1120Z" fill="#000"/>
<path d="M97 1122.5L104 1122.5L100.5 1116.5Z" fill="#000"/>
<path d="M99.5 1119L106.5 1119L103 1113Z" fill="#000"/>
<path d="M102 1115.5L109 1115.5L105.5 1109.5Z" fill="#000"/>
<path d="M104.5 1112L111.5 1112L108 1106Z" fill="#000"/>
<path d="M107 1108.5L114 1108.5L110.5 1102.5Z" fill="#000"/>
<path d="M109.5 1105L116.5 1105L113 1099Z" fill="#000"/>
<path d="M112 1101.5L119 1101.5L115.5 1095.5Z" fill="#000"/>
<path d="M114.5 1098L121.5 1098L118 1092Z" fill="#000"/>
<path d="M117.5 1094.5L124.5 1094.5L121 1088.5Z" fill="#000"/>
<path d="M121.1 1091.6L128.1 1091.6L124.6 1085.6Z" fill="#000"/>
<path d="M128.2 1087.3L135.2 1087.3L131.7 1081.3Z" fill="#000"/>
<path d="M137.4 1083L144.4 1083L140.9 1077Z" fill="#000"/>
<path d="M148 1078.1L155 1078.1L151.5 1072.1Z" fill="#000"/>
<path d="M159.4 1075.2L166.4 1075.2L162.9 1069.2Z" fill="#000"/>
<path d="M171.6 1072.8L178.6 1072.8L175.1 1066.8Z" fill="#000"/>
<path d="M184.4 1071.1L191.4 1071.1L187.9 1065.1Z" fill="#000"/>
<path d="M197.4 1073.5L204.4 1073.5L200.9 1067.5Z" fill="#000"/>
<path d="M210.5 1073.5L217.5 1073.5L214 1067.5Z" fill="#000"/>
<path d="M221.7 1075.2L228.7 1075.2L225.2 1069.2Z" fill="#000"/>
<path d="M232.8 1078.9L239.8 1078.9L236.3 1072.9Z" fill="#000"/>
<path d="M241.7 1083.3L248.7 1083.3L245.2 1077.3Z" fill="#000"/>
<path d="M251 1087.9L258 1087.9L254.5 1081.9Z" fill="#000"/>
<path d="M258.2 1091.9L265.2 1091.9L261.7 1085.9Z" fill="#000"/>
<path d="M264.3 1096L271.3 1096L267.8 1090Z" fill="#000"/>
<path d="M265.6 1097.1L272.6 1097.1L269.1 1091.2Z" fill="#000"/>
<path d="M266.9 1098.3L273.9 1098.3L270.4 1092.3Z" fill="#000"/>
<path d="M268.2 1099.4L275.2 1099.4L271.7 1093.5Z" fill="#000"/>
<path d="M269.5 1100.6L276.5 1100.6L273 1094.6Z" fill="#000"/>
<path d="M270.8 1101.7L277.8 1101.7L274.3 1095.8Z" fill="#000"/>
<path d="M272.1 1102.9L279.1 1102.9L275.6 1096.9Z" fill="#000"/>
<path d="M273.4 1104L280.4 1104L276.9 1098.1Z" fill="#000"/>
<path d="M274.7 1105.2L281.7 1105.2L278.2 1099.2Z" fill="#000"/>
<path d="M276 1106.3L283 1106.3L279.5 1100.4Z" fill="#000"/>
<path d="M277.3 1107.5L284.3 1107.5L280.8 1101.5Z" fill="#000"/>
<path d="M278.6 1108.6L285.6 1108.6L282.1 1102.7Z" fill="#000"/>
<path d="M279.9 1109.8L286.9 1109.8L283.4 1103.8Z" fill="#000"/>
<path d="M281.2 1110.9L288.2 1110.9L284.7 1105Z" fill="#000"/>
<path d="M282.5 1112.1L289.5 1112.1L286 1106.1Z" fill="#000"/>
<path d="M283.8 1113.2L290.8 1113.2L287.3 1107.3Z" fill="#000"/>
<path d="M285.1 1114.4L292.1 1114.4L288.6 1108.4Z" fill="#000"/>
<path d="M286.4 1115.5L293.4 1115.5L289.9 1109.6Z" fill="#000"/>
<path d="M287.7 1116.7L294.7 1116.7L291.2 1110.7Z" fill="#000"/>
<rect x="445.3" y="795.4" width="184.6" height="149.1" fill="none" stroke="#999" stroke-width="1.2"/>
<text x="445.5" y="955" font-family="&quot;Liberation Serif&quot;, serif" font-size="8" text-anchor="middle" font-weight="normal" fill="#666">0</text>
<text x="482.4" y="955" font-family="&quot;Liberation Serif&quot;, serif" font-size="8" text-anchor="middle" font-weight="normal" fill="#666">100</text>
<line x1="482.4" y1="944.5" x2="482.4" y2="941.5" stroke="#888" stroke-width="1" />
<text x="519.3" y="955" font-family="&quot;Liberation Serif&quot;, serif" font-size="8" text-anchor="middle" font-weight="normal" fill="#666">200</text>
<line x1="519.3" y1="944.5" x2="519.3" y2="941.5" stroke="#888" stroke-width="1" />
<text x="556.2" y="955" font-family="&quot;Liberation Serif&quot;, serif" font-size="8" text-anchor="middle" font-weight="normal" fill="#666">300</text>
<line x1="556.2" y1="944.5" x2="556.2" y2="941.5" stroke="#888" stroke-width="1" />
<text x="593.1" y="955" font-family="&quot;Liberation Serif&quot;, serif" font-size="8" text-anchor="middle" font-weight="normal" fill="#666">400</text>
<line x1="593.1" y1="944.5" x2="593.1" y2="941.5" stroke="#888" stroke-width="1" />
<text x="630" y="955" font-family="&quot;Liberation Serif&quot;, serif" font-size="8" text-anchor="middle" font-weight="normal" fill="#666">500</text>
<text x="441" y="946.5" font-family="&quot;Liberation Serif&quot;, serif" font-size="8" text-anchor="end" font-weight="normal" fill="#666">0</text>
<text x="441" y="913.4" font-family="&quot;Liberation Serif&quot;, serif" font-size="8" text-anchor="end" font-weight="normal" fill="#666">100</text>
<line x1="445.3" y1="910.6" x2="448.3" y2="910.6" stroke="#888" stroke-width="1" />
<text x="441" y="880.3" font-family="&quot;Liberation Serif&quot;, serif" font-size="8" text-anchor="end" font-weight="normal" fill="#666">200</text>
<line x1="445.3" y1="877.5" x2="448.3" y2="877.5" stroke="#888" stroke-width="1" />
<text x="441" y="847.2" font-family="&quot;Liberation Serif&quot;, serif" font-size="8" text-anchor="end" font-weight="normal" fill="#666">300</text>
<line x1="445.3" y1="844.4" x2="448.3" y2="844.4" stroke="#888" stroke-width="1" />
<text x="441" y="814.1" font-family="&quot;Liberation Serif&quot;, serif" font-size="8" text-anchor="end" font-weight="normal" fill="#666">400</text>
<line x1="445.3" y1="811.3" x2="448.3" y2="811.3" stroke="#888" stroke-width="1" />
<text x="538" y="968.5" font-family="&quot;Liberation Serif&quot;, serif" font-size="8.5" text-anchor="middle" font-weight="normal" fill="#555">Z' (ohm)</text>
<text x="423.5" y="875.6" font-family="&quot;Liberation Serif&quot;, serif" font-size="9.5" text-anchor="middle" font-weight="normal" fill="#444" textLength="48" lengthAdjust="spacingAndGlyphs" transform="rotate(-90 423.5 875.6)">-Z'' (ohm)</text>
<path d="M445.8 943.7C446.5 941.8 448.6 935.4 450 932C451.4 928.6 452.2 926.9 454.3 923.2C456.4 919.5 458.8 915.3 462.8 909.6C466.8 903.9 472.2 895.9 478.2 889.1C484.2 882.3 491.2 874.9 498.6 868.6C506 862.4 514.5 856.4 522.5 851.6C530.5 846.8 537.9 843.4 546.4 839.7C554.9 836 564.6 832.5 573.7 829.4C582.8 826.3 593.8 823.2 600.9 820.9C608 818.6 613.7 816.6 616.3 815.8" fill="none" stroke="#222" stroke-width="1.6" stroke-linejoin="round" stroke-linecap="round" />
<circle cx="447.5" cy="940.2" r="0.9" fill="#555"/>
<circle cx="451.5" cy="935.7" r="0.9" fill="#555"/>
<circle cx="455.4" cy="931.2" r="0.9" fill="#555"/>
<circle cx="459.4" cy="926.7" r="0.9" fill="#555"/>
<circle cx="464.1" cy="923" r="0.9" fill="#555"/>
<circle cx="468.9" cy="919.4" r="0.9" fill="#555"/>
<circle cx="473.8" cy="916" r="0.9" fill="#555"/>
<circle cx="478.9" cy="912.8" r="0.9" fill="#555"/>
<circle cx="484" cy="909.6" r="0.9" fill="#555"/>
<circle cx="489.3" cy="906.8" r="0.9" fill="#555"/>
<circle cx="494.7" cy="904.3" r="0.9" fill="#555"/>
<circle cx="500.2" cy="901.8" r="0.9" fill="#555"/>
<circle cx="505.9" cy="900.1" r="0.9" fill="#555"/>
<circle cx="511.8" cy="898.7" r="0.9" fill="#555"/>
<circle cx="517.6" cy="897.3" r="0.9" fill="#555"/>
<circle cx="523.5" cy="896.2" r="0.9" fill="#555"/>
<circle cx="529.4" cy="895.3" r="0.9" fill="#555"/>
<circle cx="535.3" cy="894.3" r="0.9" fill="#555"/>
<circle cx="541.3" cy="893.7" r="0.9" fill="#555"/>
<circle cx="547.3" cy="893.2" r="0.9" fill="#555"/>
<circle cx="553.3" cy="892.6" r="0.9" fill="#555"/>
<path d="M447 944C447.8 943.2 449.9 940.2 452 939C454.1 937.8 457.1 937.1 459.4 937C461.7 936.9 463.9 937.5 466 938.5C468.1 939.5 471 942.2 472 943" fill="none" stroke="#111" stroke-width="2.2" stroke-linejoin="round" stroke-linecap="round" />
<path d="M450 944C450.8 943.5 453.3 941.6 455 941C456.7 940.4 458.5 940 460 940.5C461.5 941 463.3 943.4 464 944" fill="none" stroke="#111" stroke-width="1.5" stroke-linejoin="round" stroke-linecap="round" />
<rect x="429.7" y="918.9" width="70.7" height="39.6" fill="none" stroke="#444" stroke-width="2.2"/>
<line x1="443.2" y1="963.9" x2="401.5" y2="1036.5" stroke="#222" stroke-width="1.8" />
<path d="M399.5 1040 L399.8 1031.5 L405 1034.5 Z" fill="#222"/>
<line x1="83.5" y1="1228.5" x2="694.5" y2="1228.5" stroke="#333" stroke-width="2.2" />
<line x1="694.5" y1="1228.5" x2="694.5" y2="1723.9" stroke="#333" stroke-width="2.4" />
<line x1="83.5" y1="1227.5" x2="83.5" y2="1724.9" stroke="#333" stroke-width="2.4" />
<line x1="82.5" y1="1723.9" x2="695.5" y2="1723.9" stroke="#444" stroke-width="3.2" />
<line x1="236.2" y1="1723.9" x2="236.2" y2="1718.9" stroke="#222" stroke-width="2" />
<line x1="389" y1="1723.9" x2="389" y2="1713.9" stroke="#222" stroke-width="2" />
<line x1="541.8" y1="1723.9" x2="541.8" y2="1718.9" stroke="#222" stroke-width="2" />
<line x1="83.5" y1="1600.1" x2="88.5" y2="1600.1" stroke="#333" stroke-width="2" />
<line x1="83.5" y1="1476.2" x2="93.5" y2="1476.2" stroke="#333" stroke-width="2" />
<line x1="83.5" y1="1352.3" x2="88.5" y2="1352.3" stroke="#333" stroke-width="2" />
<text transform="translate(84 1755.7) scale(0.9 1.0)" font-family="&quot;Liberation Sans&quot;, sans-serif" font-size="21" text-anchor="middle" fill="#000">0</text>
<text transform="translate(389.5 1755.7) scale(0.9 1.0)" font-family="&quot;Liberation Sans&quot;, sans-serif" font-size="21" text-anchor="middle" fill="#000">20</text>
<text transform="translate(695 1755.7) scale(0.9 1.0)" font-family="&quot;Liberation Sans&quot;, sans-serif" font-size="21" text-anchor="middle" fill="#000">40</text>
<text transform="translate(68.6 1748.8) scale(0.93 1.0)" font-family="&quot;Liberation Sans&quot;, sans-serif" font-size="20.5" text-anchor="end" fill="#000">0</text>
<text transform="translate(68.6 1500.6) scale(0.93 1.0)" font-family="&quot;Liberation Sans&quot;, sans-serif" font-size="20.5" text-anchor="end" fill="#000">20</text>
<text transform="translate(68.6 1252.3) scale(0.93 1.0)" font-family="&quot;Liberation Sans&quot;, sans-serif" font-size="20.5" text-anchor="end" fill="#000">40</text>
<text x="388.5" y="1789" font-family="&quot;Liberation Serif&quot;, serif" font-size="24.5" text-anchor="middle" font-weight="normal" textLength="80" lengthAdjust="spacingAndGlyphs">Z' (ohm)</text>
<text x="17" y="1511.5" font-family="&quot;Liberation Serif&quot;, serif" font-size="25" text-anchor="middle" font-weight="normal" textLength="101" lengthAdjust="spacing" transform="rotate(-90 17 1511.5)">-Z'' (ohm)</text>
<text x="101" y="1265" font-family="&quot;Liberation Serif&quot;, serif" font-size="22.5" text-anchor="start" font-weight="bold" textLength="139" lengthAdjust="spacingAndGlyphs">(c)&#160;&#160;[OH<tspan font-size="13" dy="-9">&#8722;</tspan><tspan dy="9">] (M)</tspan></text>
<line x1="102.5" y1="1301.8" x2="161" y2="1301.8" stroke="#111" stroke-width="2.4" />
<line x1="102.4" y1="1331.6" x2="158.8" y2="1331.6" stroke="#222" stroke-width="2.4" stroke-dasharray="8 7.9"/>
<path d="M127.4 1364L134.4 1364L130.9 1358Z" fill="#000"/>
<rect x="128.2" y="1388.8" width="5.5" height="5.5" fill="none" stroke="#333" stroke-width="1"/>
<rect x="127.9" y="1418.8" width="6" height="6" fill="#000"/>
<text transform="translate(166 1310.1) scale(1 1.08)" font-family="&quot;Liberation Serif&quot;, serif" font-size="23.5" text-anchor="start" font-weight="normal" >0</text>
<text transform="translate(166 1339.9) scale(1 1.08)" font-family="&quot;Liberation Serif&quot;, serif" font-size="23.5" text-anchor="start" font-weight="normal" >0.0175</text>
<text transform="translate(166 1369.3) scale(1 1.08)" font-family="&quot;Liberation Serif&quot;, serif" font-size="23.5" text-anchor="start" font-weight="normal" >0.042</text>
<text transform="translate(166 1399.8) scale(1 1.08)" font-family="&quot;Liberation Serif&quot;, serif" font-size="23.5" text-anchor="start" font-weight="normal" >0.077</text>
<text transform="translate(166 1430.1) scale(1 1.08)" font-family="&quot;Liberation Serif&quot;, serif" font-size="23.5" text-anchor="start" font-weight="normal" >0.112</text>
<path d="M83.5 1678.5L92 1682.5L100.5 1686.5L107 1693L113 1700L118 1708L121.5 1715L123.5 1717L127 1711L131.9 1702.1L139.9 1684.2L151.8 1648.4L167 1600L177.3 1565.7L190.9 1525.9L200 1489.5L213.6 1460L227.4 1421L232.4 1408L243.9 1378.9L284.8 1314.9L337.2 1257.4L340.6 1252.3L341.8 1243L343.1 1228.5" fill="none" stroke="#111" stroke-width="2" stroke-linejoin="round" stroke-linecap="round" />
<path d="M129 1709C130.2 1707.3 133.3 1702.5 136 1699C138.7 1695.5 141.8 1691.8 145 1688C148.2 1684.2 151.3 1679.8 155 1676C158.7 1672.2 163.7 1667.8 167 1665C170.3 1662.2 172.2 1661.6 175 1659.3C177.8 1657 180.5 1654.4 184.1 1651.4C187.7 1648.4 192 1644.3 196.6 1641.1C201.2 1637.9 206.3 1634.8 211.4 1632C216.5 1629.2 222 1626.9 227.3 1624.5C232.6 1622.1 237.9 1619.9 243.2 1617.7C248.5 1615.5 253.8 1613.5 259.1 1611.6C264.4 1609.7 269.7 1607.7 275 1606.4C280.3 1605.1 285.6 1604.5 290.9 1603.6C296.2 1602.7 301.5 1602 306.8 1601C312.1 1600 317.4 1598.8 322.7 1597.7C328 1596.6 333.4 1595.3 338.6 1594.3C343.8 1593.2 350.3 1592 354.1 1591.4C357.9 1590.8 359 1590.7 361.5 1590.8C364 1590.9 365.2 1591.2 369.3 1592C373.4 1592.8 380.5 1594.4 385.9 1595.5C391.3 1596.6 396.5 1597.5 401.8 1598.4C407.1 1599.3 412.5 1599.8 417.7 1600.7C422.9 1601.7 427.8 1602.7 433 1604.1C438.2 1605.5 444.2 1607.4 448.9 1609.1C453.6 1610.8 455.8 1612 461.4 1614.4C467 1616.8 475.6 1619.8 482.7 1623.3C489.8 1626.8 499.1 1632.7 504 1635.7C508.9 1638.7 507.9 1638.3 512 1641.5C516.1 1644.7 524.4 1651 528.4 1654.8C532.4 1658.5 533.7 1661.2 536 1664C538.3 1666.8 540.1 1669.1 542 1671.8C543.9 1674.5 545.8 1677.3 547.5 1680C549.2 1682.7 552.5 1685.3 552.3 1687.7C552 1690.1 546 1693 546 1694.5C546 1696 552.4 1695.8 552 1697C551.6 1698.2 544.9 1701.2 543.5 1702" fill="none" stroke="#1a1a1a" stroke-width="2.3" stroke-linejoin="round" stroke-linecap="round" stroke-dasharray="9 7" stroke-linecap="butt"/>
<line x1="547" y1="1703" x2="560" y2="1705" stroke="#222" stroke-width="2" />
<rect x="89.1" y="1679.1" width="5.8" height="5.8" fill="#000"/>
<rect x="96.1" y="1685.1" width="5.8" height="5.8" fill="#000"/>
<rect x="102.7" y="1689.9" width="5.8" height="5.8" fill="#000"/>
<rect x="107.1" y="1693.1" width="5.8" height="5.8" fill="#000"/>
<rect x="111.2" y="1695.1" width="5.8" height="5.8" fill="#000"/>
<rect x="114.1" y="1701.1" width="5.8" height="5.8" fill="#000"/>
<rect x="116.1" y="1706.1" width="5.8" height="5.8" fill="#000"/>
<rect x="118" y="1710.1" width="5.8" height="5.8" fill="#000"/>
<rect x="120.1" y="1713.1" width="5.8" height="5.8" fill="#000"/>
<rect x="123.1" y="1710.1" width="5.8" height="5.8" fill="#000"/>
<rect x="126.5" y="1705.3" width="5.8" height="5.8" fill="#000"/>
<rect x="130.1" y="1698.1" width="5.8" height="5.8" fill="#000"/>
<rect x="133.3" y="1693.3" width="5.8" height="5.8" fill="#000"/>
<rect x="140.1" y="1684.8" width="5.8" height="5.8" fill="#000"/>
<rect x="148.7" y="1678" width="5.8" height="5.8" fill="#000"/>
<rect x="156.4" y="1672.9" width="5.8" height="5.8" fill="#000"/>
<rect x="167.4" y="1666.9" width="5.8" height="5.8" fill="#000"/>
<rect x="179.4" y="1662.7" width="5.8" height="5.8" fill="#000"/>
<rect x="194.7" y="1656.2" width="5.8" height="5.8" fill="#000"/>
<rect x="208.4" y="1655.3" width="5.8" height="5.8" fill="#000"/>
<rect x="224.3" y="1653.9" width="5.8" height="5.8" fill="#000"/>
<rect x="237.9" y="1656.2" width="5.8" height="5.8" fill="#000"/>
<rect x="252.1" y="1657.1" width="5.8" height="5.8" fill="#000"/>
<rect x="267.5" y="1658.5" width="5.8" height="5.8" fill="#000"/>
<rect x="278.8" y="1663" width="5.8" height="5.8" fill="#000"/>
<rect x="292.6" y="1671" width="5.8" height="5.8" fill="#000"/>
<rect x="301.9" y="1674.3" width="5.8" height="5.8" fill="#000"/>
<rect x="311.1" y="1680.8" width="5.8" height="5.8" fill="#000"/>
<rect x="315.7" y="1683.6" width="5.8" height="5.8" fill="#000"/>
<rect x="322.2" y="1689.1" width="5.8" height="5.8" fill="#000"/>
<rect x="326.8" y="1692.8" width="5.8" height="5.8" fill="#000"/>
<rect x="330.5" y="1695.6" width="5.8" height="5.8" fill="#000"/>
<rect x="334.2" y="1701.1" width="5.8" height="5.8" fill="#000"/>
<rect x="337.9" y="1703.9" width="5.8" height="5.8" fill="#000"/>
<rect x="341.6" y="1706.7" width="5.8" height="5.8" fill="#000"/>
<rect x="345.3" y="1705.7" width="5.8" height="5.8" fill="#000"/>
<rect x="349.9" y="1698.4" width="5.8" height="5.8" fill="#000"/>
<rect x="356.4" y="1700.2" width="5.8" height="5.8" fill="#000"/>
<rect x="346.2" y="1691" width="5.8" height="5.8" fill="#000"/>
<rect x="351.7" y="1686.4" width="5.8" height="5.8" fill="#000"/>
<rect x="357.3" y="1687.3" width="5.8" height="5.8" fill="#000"/>
<rect x="359.1" y="1680.8" width="5.8" height="5.8" fill="#000"/>
<rect x="358.2" y="1666" width="5.8" height="5.8" fill="#000"/>
<rect x="101.1" y="1679" width="5.6" height="5.6" fill="none" stroke="#555" stroke-width="1.1"/>
<rect x="106.2" y="1685.2" width="5.6" height="5.6" fill="none" stroke="#555" stroke-width="1.1"/>
<rect x="113.8" y="1688.3" width="5.6" height="5.6" fill="none" stroke="#555" stroke-width="1.1"/>
<rect x="117.2" y="1697.2" width="5.6" height="5.6" fill="none" stroke="#555" stroke-width="1.1"/>
<rect x="121.2" y="1707.2" width="5.6" height="5.6" fill="none" stroke="#555" stroke-width="1.1"/>
<rect x="124.2" y="1711.2" width="5.6" height="5.6" fill="none" stroke="#555" stroke-width="1.1"/>
<rect x="128.2" y="1707.2" width="5.6" height="5.6" fill="none" stroke="#555" stroke-width="1.1"/>
<rect x="131.2" y="1701.2" width="5.6" height="5.6" fill="none" stroke="#555" stroke-width="1.1"/>
<rect x="134.2" y="1695.2" width="5.6" height="5.6" fill="none" stroke="#555" stroke-width="1.1"/>
<rect x="138.2" y="1689.2" width="5.6" height="5.6" fill="none" stroke="#555" stroke-width="1.1"/>
<rect x="143.2" y="1683.2" width="5.6" height="5.6" fill="none" stroke="#555" stroke-width="1.1"/>
<rect x="149.2" y="1677.2" width="5.6" height="5.6" fill="none" stroke="#555" stroke-width="1.1"/>
<rect x="157.2" y="1670.2" width="5.6" height="5.6" fill="none" stroke="#555" stroke-width="1.1"/>
<rect x="165.2" y="1664.2" width="5.6" height="5.6" fill="none" stroke="#555" stroke-width="1.1"/>
<rect x="173.2" y="1658.2" width="5.6" height="5.6" fill="none" stroke="#555" stroke-width="1.1"/>
<rect x="179.2" y="1654.2" width="5.6" height="5.6" fill="none" stroke="#555" stroke-width="1.1"/>
<rect x="186.3" y="1650.8" width="5.6" height="5.6" fill="none" stroke="#555" stroke-width="1.1"/>
<rect x="201.7" y="1644.9" width="5.6" height="5.6" fill="none" stroke="#555" stroke-width="1.1"/>
<rect x="219.8" y="1638.1" width="5.6" height="5.6" fill="none" stroke="#555" stroke-width="1.1"/>
<rect x="243.9" y="1636.7" width="5.6" height="5.6" fill="none" stroke="#555" stroke-width="1.1"/>
<rect x="272.1" y="1633.6" width="5.6" height="5.6" fill="none" stroke="#555" stroke-width="1.1"/>
<rect x="288" y="1636.7" width="5.6" height="5.6" fill="none" stroke="#555" stroke-width="1.1"/>
<rect x="300.1" y="1637.5" width="5.6" height="5.6" fill="none" stroke="#555" stroke-width="1.1"/>
<rect x="322.3" y="1645.8" width="5.6" height="5.6" fill="none" stroke="#555" stroke-width="1.1"/>
<rect x="334.3" y="1651.4" width="5.6" height="5.6" fill="none" stroke="#555" stroke-width="1.1"/>
<rect x="347.2" y="1659.7" width="5.6" height="5.6" fill="none" stroke="#555" stroke-width="1.1"/>
<rect x="355.2" y="1668" width="5.6" height="5.6" fill="none" stroke="#555" stroke-width="1.1"/>
<rect x="364.8" y="1673.5" width="5.6" height="5.6" fill="none" stroke="#555" stroke-width="1.1"/>
<rect x="371.2" y="1680.9" width="5.6" height="5.6" fill="none" stroke="#555" stroke-width="1.1"/>
<rect x="375.8" y="1688.3" width="5.6" height="5.6" fill="none" stroke="#555" stroke-width="1.1"/>
<rect x="380.5" y="1696.6" width="5.6" height="5.6" fill="none" stroke="#555" stroke-width="1.1"/>
<rect x="382.3" y="1704" width="5.6" height="5.6" fill="none" stroke="#555" stroke-width="1.1"/>
<rect x="383.2" y="1711.4" width="5.6" height="5.6" fill="none" stroke="#555" stroke-width="1.1"/>
<rect x="386.9" y="1707.7" width="5.6" height="5.6" fill="none" stroke="#555" stroke-width="1.1"/>
<rect x="391.5" y="1705.8" width="5.6" height="5.6" fill="none" stroke="#555" stroke-width="1.1"/>
<rect x="398" y="1698.5" width="5.6" height="5.6" fill="none" stroke="#555" stroke-width="1.1"/>
<rect x="397.1" y="1707.7" width="5.6" height="5.6" fill="none" stroke="#555" stroke-width="1.1"/>
<rect x="388.8" y="1713.2" width="5.6" height="5.6" fill="none" stroke="#555" stroke-width="1.1"/>
<rect x="392.5" y="1714.2" width="5.6" height="5.6" fill="none" stroke="#555" stroke-width="1.1"/>
<path d="M92.5 1687L99.5 1687L96 1681Z" fill="#000"/>
<path d="M99.5 1693L106.5 1693L103 1687Z" fill="#000"/>
<path d="M106.5 1700L113.5 1700L110 1694Z" fill="#000"/>
<path d="M112.5 1709L119.5 1709L116 1703Z" fill="#000"/>
<path d="M117.5 1717L124.5 1717L121 1711Z" fill="#000"/>
<path d="M122.5 1715L129.5 1715L126 1709Z" fill="#000"/>
<path d="M127.5 1708L134.5 1708L131 1702Z" fill="#000"/>
<path d="M132.5 1701L139.5 1701L136 1695Z" fill="#000"/>
<path d="M137.5 1694L144.5 1694L141 1688Z" fill="#000"/>
<path d="M143.5 1687L150.5 1687L147 1681Z" fill="#000"/>
<path d="M150.5 1680L157.5 1680L154 1674Z" fill="#000"/>
<path d="M158.5 1673L165.5 1673L162 1667Z" fill="#000"/>
<path d="M166.5 1666L173.5 1666L170 1660Z" fill="#000"/>
<path d="M174.5 1659L181.5 1659L178 1653Z" fill="#000"/>
<path d="M182.5 1653L189.5 1653L186 1647Z" fill="#000"/>
<path d="M192.5 1647L199.5 1647L196 1641Z" fill="#000"/>
<path d="M203.2 1641.6L210.2 1641.6L206.7 1635.6Z" fill="#000"/>
<path d="M219.5 1638.5L226.5 1638.5L223 1632.5Z" fill="#000"/>
<path d="M237.3 1636.2L244.3 1636.2L240.8 1630.2Z" fill="#000"/>
<path d="M256.9 1633.9L263.9 1633.9L260.4 1627.9Z" fill="#000"/>
<path d="M278.2 1635.7L285.2 1635.7L281.7 1629.7Z" fill="#000"/>
<path d="M299.4 1636.9L306.4 1636.9L302.9 1630.9Z" fill="#000"/>
<path d="M321.6 1637.8L328.6 1637.8L325.1 1631.8Z" fill="#000"/>
<path d="M340.1 1646.1L347.1 1646.1L343.6 1640.1Z" fill="#000"/>
<path d="M355.2 1651.1L362.2 1651.1L358.7 1645.1Z" fill="#000"/>
<path d="M370.5 1658.1L377.5 1658.1L374 1652.1Z" fill="#000"/>
<path d="M379.8 1668.2L386.8 1668.2L383.3 1662.2Z" fill="#000"/>
<path d="M388.1 1676.6L395.1 1676.6L391.6 1670.6Z" fill="#000"/>
<path d="M395.5 1681.2L402.5 1681.2L399 1675.2Z" fill="#000"/>
<path d="M401 1689.5L408 1689.5L404.5 1683.5Z" fill="#000"/>
<path d="M404.7 1696.9L411.7 1696.9L408.2 1690.9Z" fill="#000"/>
<path d="M407.5 1702.4L414.5 1702.4L411 1696.4Z" fill="#000"/>
<path d="M410.2 1707L417.2 1707L413.7 1701Z" fill="#000"/>
<path d="M412.1 1709.8L419.1 1709.8L415.6 1703.8Z" fill="#000"/>
<path d="M408.4 1715.3L415.4 1715.3L411.9 1709.3Z" fill="#000"/>
<path d="M404.7 1716.3L411.7 1716.3L408.2 1710.3Z" fill="#000"/>
<path d="M402.8 1713.5L409.8 1713.5L406.3 1707.5Z" fill="#000"/>
<rect x="485.3" y="1274.5" width="171.9" height="137.2" fill="none" stroke="#999" stroke-width="1.2"/>
<text transform="translate(485.3 1423.9) scale(0.95 1.0)" font-family="&quot;Liberation Serif&quot;, serif" font-size="10" text-anchor="middle" fill="#2a2a2a">0</text>
<text transform="translate(519.3 1423.9) scale(0.95 1.0)" font-family="&quot;Liberation Serif&quot;, serif" font-size="10" text-anchor="middle" fill="#2a2a2a">200</text>
<line x1="519.3" y1="1411.7" x2="519.3" y2="1408.7" stroke="#888" stroke-width="1" />
<text transform="translate(553.3 1423.9) scale(0.95 1.0)" font-family="&quot;Liberation Serif&quot;, serif" font-size="10" text-anchor="middle" fill="#2a2a2a">400</text>
<line x1="553.3" y1="1411.7" x2="553.3" y2="1408.7" stroke="#888" stroke-width="1" />
<text transform="translate(587.3 1423.9) scale(0.95 1.0)" font-family="&quot;Liberation Serif&quot;, serif" font-size="10" text-anchor="middle" fill="#2a2a2a">600</text>
<line x1="587.3" y1="1411.7" x2="587.3" y2="1408.7" stroke="#888" stroke-width="1" />
<text transform="translate(621.3 1423.9) scale(0.95 1.0)" font-family="&quot;Liberation Serif&quot;, serif" font-size="10" text-anchor="middle" fill="#2a2a2a">800</text>
<line x1="621.3" y1="1411.7" x2="621.3" y2="1408.7" stroke="#888" stroke-width="1" />
<text transform="translate(655.3 1423.9) scale(0.95 1.0)" font-family="&quot;Liberation Serif&quot;, serif" font-size="10" text-anchor="middle" fill="#2a2a2a">1000</text>
<text transform="translate(481.5 1413.9) scale(0.95 1.0)" font-family="&quot;Liberation Serif&quot;, serif" font-size="10" text-anchor="end" fill="#2a2a2a">0</text>
<text transform="translate(481.5 1392.3) scale(0.95 1.0)" font-family="&quot;Liberation Serif&quot;, serif" font-size="10" text-anchor="end" fill="#2a2a2a">50</text>
<line x1="485.3" y1="1388.7" x2="488.3" y2="1388.7" stroke="#888" stroke-width="1" />
<text transform="translate(481.5 1370.7) scale(0.95 1.0)" font-family="&quot;Liberation Serif&quot;, serif" font-size="10" text-anchor="end" fill="#2a2a2a">100</text>
<line x1="485.3" y1="1367.1" x2="488.3" y2="1367.1" stroke="#888" stroke-width="1" />
<text transform="translate(481.5 1349.1) scale(0.95 1.0)" font-family="&quot;Liberation Serif&quot;, serif" font-size="10" text-anchor="end" fill="#2a2a2a">150</text>
<line x1="485.3" y1="1345.5" x2="488.3" y2="1345.5" stroke="#888" stroke-width="1" />
<text transform="translate(481.5 1327.5) scale(0.95 1.0)" font-family="&quot;Liberation Serif&quot;, serif" font-size="10" text-anchor="end" fill="#2a2a2a">200</text>
<line x1="485.3" y1="1323.9" x2="488.3" y2="1323.9" stroke="#888" stroke-width="1" />
<text transform="translate(481.5 1305.9) scale(0.95 1.0)" font-family="&quot;Liberation Serif&quot;, serif" font-size="10" text-anchor="end" fill="#2a2a2a">250</text>
<line x1="485.3" y1="1302.3" x2="488.3" y2="1302.3" stroke="#888" stroke-width="1" />
<text transform="translate(481.5 1284.3) scale(0.95 1.0)" font-family="&quot;Liberation Serif&quot;, serif" font-size="10" text-anchor="end" fill="#2a2a2a">300</text>
<line x1="485.3" y1="1280.7" x2="488.3" y2="1280.7" stroke="#888" stroke-width="1" />
<text x="571.3" y="1441.5" font-family="&quot;Liberation Serif&quot;, serif" font-size="10" text-anchor="middle" font-weight="normal" fill="#333">Z' (ohm)</text>
<text x="459.8" y="1357.5" font-family="&quot;Liberation Serif&quot;, serif" font-size="10" text-anchor="middle" font-weight="normal" fill="#333" textLength="43" lengthAdjust="spacingAndGlyphs" transform="rotate(-90 459.8 1357.5)">-Z'' (ohm)</text>
<rect x="485" y="1409.5" width="3" height="3" fill="#1a1a1a"/>
<rect x="485" y="1406.5" width="3" height="3" fill="#1a1a1a"/>
<rect x="485.1" y="1403.5" width="3" height="3" fill="#1a1a1a"/>
<rect x="485.2" y="1400.5" width="3" height="3" fill="#1a1a1a"/>
<rect x="485.3" y="1397.5" width="3" height="3" fill="#1a1a1a"/>
<rect x="485.5" y="1394.5" width="3" height="3" fill="#1a1a1a"/>
<rect x="485.8" y="1391.5" width="3" height="3" fill="#1a1a1a"/>
<rect x="486.6" y="1391.2" width="3" height="3" fill="#1a1a1a"/>
<rect x="487.1" y="1387.3" width="3" height="3" fill="#1a1a1a"/>
<rect x="488.8" y="1381.6" width="3" height="3" fill="#1a1a1a"/>
<rect x="490.5" y="1369.6" width="3" height="3" fill="#1a1a1a"/>
<rect x="492.3" y="1362.8" width="3" height="3" fill="#1a1a1a"/>
<rect x="495.7" y="1353.2" width="3" height="3" fill="#1a1a1a"/>
<rect x="499.1" y="1344.6" width="3" height="3" fill="#1a1a1a"/>
<rect x="503.6" y="1332.4" width="3" height="3" fill="#1a1a1a"/>
<rect x="507.6" y="1323" width="3" height="3" fill="#1a1a1a"/>
<rect x="511" y="1314" width="3" height="3" fill="#1a1a1a"/>
<rect x="518.4" y="1302.6" width="3" height="3" fill="#1a1a1a"/>
<rect x="528" y="1290.7" width="3" height="3" fill="#1a1a1a"/>
<rect x="540.1" y="1286" width="3" height="3" fill="#1a1a1a"/>
<rect x="545.9" y="1277.5" width="3" height="3" fill="#1a1a1a"/>
<rect x="556.1" y="1275.1" width="3" height="3" fill="#1a1a1a"/>
<rect x="564.7" y="1275.8" width="3" height="3" fill="#1a1a1a"/>
<rect x="572.2" y="1280.2" width="3" height="3" fill="#1a1a1a"/>
<rect x="583.4" y="1281.6" width="3" height="3" fill="#1a1a1a"/>
<rect x="587.5" y="1281.9" width="3" height="3" fill="#1a1a1a"/>
<rect x="598.1" y="1293.8" width="3" height="3" fill="#1a1a1a"/>
<rect x="604.9" y="1303.1" width="3" height="3" fill="#1a1a1a"/>
<rect x="610.7" y="1306.5" width="3" height="3" fill="#1a1a1a"/>
<rect x="619.9" y="1315" width="3" height="3" fill="#1a1a1a"/>
<rect x="625.3" y="1319.1" width="3" height="3" fill="#1a1a1a"/>
<rect x="632.2" y="1316" width="3" height="3" fill="#1a1a1a"/>
<rect x="639" y="1329.3" width="3" height="3" fill="#1a1a1a"/>
<rect x="641.4" y="1333.1" width="3" height="3" fill="#1a1a1a"/>
<rect x="463.2" y="1376.1" width="52.8" height="52" fill="none" stroke="#444" stroke-width="2.2"/>
<line x1="463.9" y1="1428.4" x2="418" y2="1520" stroke="#222" stroke-width="1.8" />
<path d="M415.8 1524.5 L416 1515.8 L421.6 1518.6 Z" fill="#222"/>
</svg></body></html>
